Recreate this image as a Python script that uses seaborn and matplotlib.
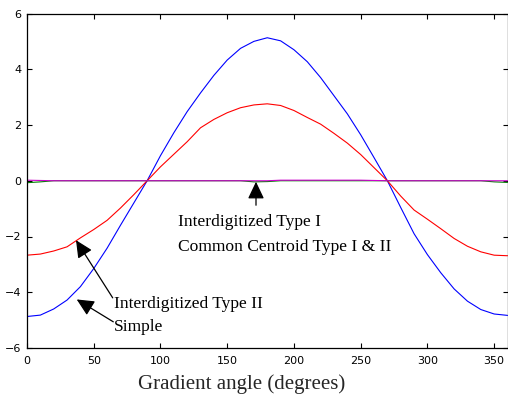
import numpy as np
import pandas as pd
import matplotlib
matplotlib.use("Agg")
import matplotlib.pyplot as plt
import seaborn as sns

# ---- data ----
angles = [0, 10, 20, 30, 40, 50, 60, 70, 80, 90, 100, 110, 120, 130, 140, 150, 160, 170, 180,
          190, 200, 210, 220, 230, 240, 250, 260, 270, 280, 290, 300, 310, 320, 330, 340, 350, 360]
simple = [-4.87, -4.82, -4.60, -4.28, -3.80, -3.15, -2.42, -1.60, -0.80, 0.0, 0.90, 1.72, 2.48,
          3.15, 3.78, 4.33, 4.75, 5.00, 5.13, 5.02, 4.70, 4.27, 3.70, 3.05, 2.40, 1.65, 0.83, 0.0,
          -0.96, -1.90, -2.65, -3.30, -3.88, -4.32, -4.62, -4.78, -4.83]
interdig_II = [-2.67, -2.63, -2.52, -2.37, -2.05, -1.75, -1.42, -0.98, -0.50, 0.0, 0.50, 0.95,
               1.40, 1.90, 2.20, 2.44, 2.62, 2.72, 2.76, 2.70, 2.52, 2.27, 2.03, 1.70, 1.35, 0.94,
               0.47, 0.0, -0.55, -1.05, -1.38, -1.72, -2.07, -2.35, -2.55, -2.67, -2.69]
interdig_I = [-0.07, -0.04, 0.0, 0.0, 0.0, 0.0, 0.0, 0.0, 0.0, 0.0, 0.0, 0.0, 0.0, 0.0, 0.0, 0.0,
              0.0, -0.04, -0.03, 0.0, 0.0, 0.0, 0.0, 0.0, 0.0, 0.0, 0.0, 0.0, 0.0, 0.0, 0.0, 0.0,
              0.0, 0.0, 0.0, -0.04, -0.06]
common_centroid = [0.02, 0.01, 0.0, 0.0, 0.0, 0.0, 0.0, 0.0, 0.0, 0.0, 0.0, 0.0, 0.0, 0.0, 0.0,
                   0.0, 0.0, 0.0, 0.0, 0.02, 0.02, 0.02, 0.02, 0.02, 0.02, 0.02, 0.01, 0.0, 0.0,
                   0.0, 0.0, 0.0, 0.0, 0.0, 0.0, 0.0, 0.0]
series_names = ["Simple", "Interdigitized Type II", "Interdigitized Type I", "Common Centroid"]
series_colors = ["#0000ff", "#ff0000", "#008000", "#cc00cc"]
x_ticks = [0, 50, 100, 150, 200, 250, 300, 350]
y_ticks = [-6, -4, -2, 0, 2, 4, 6]

frames = []
for name, vals in zip(series_names, [simple, interdig_II, interdig_I, common_centroid]):
    frames.append(pd.DataFrame({"angle": angles, "value": vals, "series": name}))
df = pd.concat(frames, ignore_index=True)

sns.set_style("ticks")
plt.rcParams["font.family"] = ["DejaVu Sans"]

fig = plt.figure(figsize=(5.08, 3.97), dpi=100)
ax = fig.add_axes([27 / 508, 1 - 348 / 397, 480.5 / 508, (348 - 13.5) / 397])

sns.lineplot(data=df, x="angle", y="value", hue="series", hue_order=series_names,
             palette=dict(zip(series_names, series_colors)), linewidth=0.8,
             legend=False, ax=ax, estimator=None, sort=False)

ax.set_xlim(0, 360)
ax.set_ylim(-6, 6)
ax.set_xticks(x_ticks)
ax.set_yticks(y_ticks)
ax.set_xlabel("")
ax.set_ylabel("")
ax.tick_params(direction="in", length=3.5, width=0.8, top=True, right=True,
               labelsize=8, colors="black", pad=4)
ax.tick_params(axis="x", pad=6)
for s in ax.spines.values():
    s.set_visible(True)
    s.set_linewidth(0.9)
    s.set_color("black")

serif = ["Liberation Serif", "DejaVu Serif"]
fig.text(242 / 508, 1 - 389 / 397, "Gradient angle (degrees)", family=serif, fontsize=15,
         ha="center", va="baseline")


def px2data(px, py):
    return ((px - 27) / (480.5 / 360), (180.5 - py) / 27.9)


def label(px, py, s):
    x, y = px2data(px, py)
    ax.text(x, y, s, family=serif, fontsize=12.6, ha="left", va="baseline", color="black")


label(178, 226, "Interdigitized Type I")
label(178, 251, "Common Centroid Type I & II")
label(114, 308, "Interdigitized Type II")
label(114, 331, "Simple")

arrowprops = dict(arrowstyle="-|>,head_length=1.05,head_width=0.5", color="black", lw=0.9,
                  shrinkA=0, shrinkB=0)
for tail, tip in [((256, 205), (256, 181.5)),
                  ((112.7, 297.7), (76, 240)),
                  ((113.3, 321.7), (76.7, 299.3))]:
    ax.annotate("", xy=px2data(*tip), xytext=px2data(*tail), arrowprops=arrowprops)

fig.savefig("out.png", dpi=100, facecolor="white")
